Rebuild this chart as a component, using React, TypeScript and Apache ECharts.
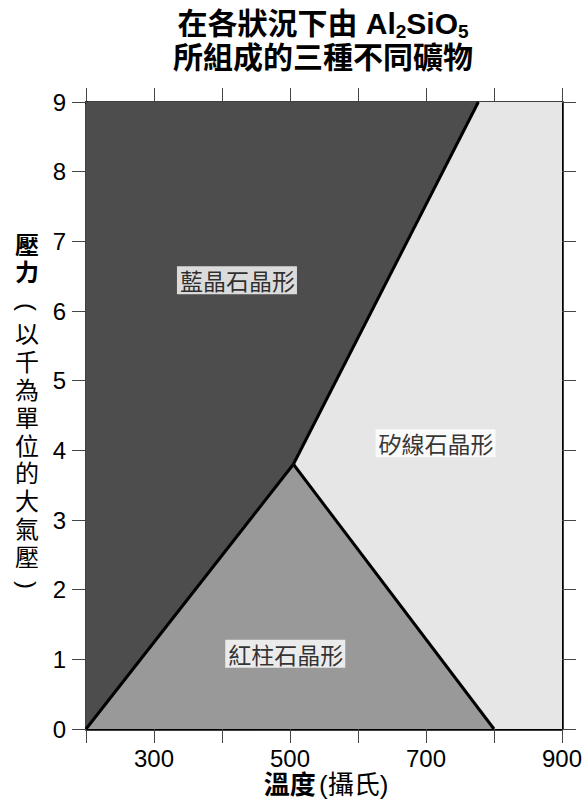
import React, { useEffect, useRef } from 'react';
import * as echarts from 'echarts';

// ---- data ----
const phaseNames = ['藍晶石晶形', '紅柱石晶形', '矽線石晶形'];
const kyaniteRegion = [[200, 0], [505, 3.8], [777, 9], [200, 9]];
const andalusiteRegion = [[200, 0], [800, 0], [505, 3.8]];
const sillimaniteRegion = [[505, 3.8], [800, 0], [900, 0], [900, 9], [777, 9]];
const regionColors = ['#4d4d4d', '#999999', '#e6e6e6'];
const boundaryKyAnd = [[200, 0], [505, 3.8]];
const boundaryAndSil = [[505, 3.8], [800, 0]];
const boundaryKySil = [[505, 3.8], [777, 9]];
const labelPoints = [[422, 6.44], [493, 1.08], [714, 4.1]];
const xTickLabels = [300, 500, 700, 900];
const yTickLabels = [0, 1, 2, 3, 4, 5, 6, 7, 8, 9];
const yNameBold = ['壓', '力'];
const yNameRegular = ['以', '千', '為', '單', '位', '的', '大', '氣', '壓'];

const regions = [kyaniteRegion, andalusiteRegion, sillimaniteRegion];
const boundaries = [boundaryKyAnd, boundaryAndSil, boundaryKySil];

const FONT = "'Liberation Sans', 'Noto Sans CJK TC', sans-serif";
const CJK = "'Noto Sans CJK TC', 'Liberation Sans', sans-serif";

export default function App() {
  const ref = useRef<HTMLDivElement>(null);
  useEffect(() => {
    if (!ref.current) return;
    const chart = echarts.init(ref.current, undefined, { renderer: 'svg' });
    const axisLine = { show: true, onZero: false, lineStyle: { color: '#000', width: 2.5 } };
    const axisTick = { show: true, length: 14, lineStyle: { color: '#444', width: 1 } };

    const yNameX = 27;
    const boldTop = 245;
    const boldStep = 27.2;
    const regTop = 307;
    const regStep = 27.8;
    const yNameGraphics: any[] = [];
    yNameBold.forEach((c, i) => {
      yNameGraphics.push({
        type: 'text', x: yNameX, y: boldTop + i * boldStep,
        style: { text: c, align: 'center', verticalAlign: 'middle', font: `bold 24px ${FONT}`, fill: '#000' },
      });
    });
    // opening bracket (rotated)
    yNameGraphics.push({
      type: 'text', x: yNameX, y: regTop, rotation: -Math.PI / 2,
      style: { text: '(', align: 'center', verticalAlign: 'middle', font: `24px ${FONT}`, fill: '#000' },
    });
    yNameRegular.forEach((c, i) => {
      yNameGraphics.push({
        type: 'text', x: yNameX, y: regTop + (i + 1) * regStep,
        style: { text: c, align: 'center', verticalAlign: 'middle', font: `24px ${FONT}`, fill: '#000' },
      });
    });
    yNameGraphics.push({
      type: 'text', x: yNameX, y: regTop + (yNameRegular.length + 1) * regStep, rotation: -Math.PI / 2,
      style: { text: ')', align: 'center', verticalAlign: 'middle', font: `24px ${FONT}`, fill: '#000' },
    });

    const option: any = {
      animation: false,
      backgroundColor: '#fff',
      grid: { left: 86, top: 102, right: 25, bottom: 75, containLabel: false },
      xAxis: [
        {
          type: 'value', min: 200, max: 900, interval: 100, position: 'bottom',
          axisLine, axisTick,
          axisLabel: {
            formatter: (v: number) => (xTickLabels.includes(v) ? String(v) : ''),
            fontSize: 24, color: '#000', fontFamily: FONT, margin: 17,
          },
          splitLine: { show: false },
        },
        {
          type: 'value', min: 200, max: 900, interval: 100, position: 'top',
          axisLine, axisTick, axisLabel: { show: false }, splitLine: { show: false },
        },
      ],
      yAxis: [
        {
          type: 'value', min: 0, max: 9, interval: 1, position: 'left',
          axisLine, axisTick,
          axisLabel: {
            formatter: (v: number) => (yTickLabels.includes(v) ? String(v) : ''),
            fontSize: 24, color: '#000', fontFamily: FONT, margin: 20,
          },
          splitLine: { show: false },
        },
        {
          type: 'value', min: 0, max: 9, interval: 1, position: 'right',
          axisLine, axisTick, axisLabel: { show: false }, splitLine: { show: false },
        },
      ],
      series: [
        {
          type: 'custom',
          xAxisIndex: 0, yAxisIndex: 0,
          data: regions.map((r) => r[0]),
          silent: true,
          z: 1,
          renderItem: (params: any, api: any) => {
            const i = params.dataIndex;
            const pts = regions[i].map((p) => api.coord(p));
            return { type: 'polygon', shape: { points: pts }, style: { fill: regionColors[i] } };
          },
        },
        ...boundaries.map((b) => ({
          type: 'line', xAxisIndex: 0, yAxisIndex: 0, data: b, symbol: 'none', silent: true, z: 3,
          lineStyle: { color: '#000', width: 3 },
        })),
        {
          type: 'scatter', xAxisIndex: 0, yAxisIndex: 0, z: 5, symbolSize: 0, silent: true,
          data: labelPoints.map((p, i) => ({ value: p, name: phaseNames[i] })),
          label: {
            show: true, position: 'inside', formatter: '{b}', color: '#000',
            fontSize: 23, fontFamily: CJK, backgroundColor: '#fff', padding: [3, 2, 2, 3],
          },
        },
      ],
      graphic: [
        {
          type: 'text', x: 323, y: 5,
          style: {
            text: '{b|在各狀況下由 Al}{s|2}{b|SiO}{s|5}',
            align: 'center', verticalAlign: 'top',
            rich: {
              b: { fontSize: 30, fontWeight: 'bold', fontFamily: FONT, lineHeight: 36, fill: '#000' },
              s: { fontSize: 19, fontWeight: 'bold', fontFamily: FONT, lineHeight: 12, verticalAlign: 'bottom', fill: '#000' },
            },
          },
        },
        {
          type: 'text', x: 323, y: 57,
          style: {
            text: '所組成的三種不同礦物', align: 'center', verticalAlign: 'middle',
            font: `bold 30px ${FONT}`, fill: '#000',
          },
        },
        ...yNameGraphics,
        {
          type: 'text', x: 326, y: 785,
          style: {
            text: '{b|溫度} {r|(攝氏)}', align: 'center', verticalAlign: 'middle',
            rich: {
              b: { fontSize: 26, fontWeight: 'bold', fontFamily: FONT, fill: '#000' },
              r: { fontSize: 26, fontFamily: FONT, fill: '#000' },
            },
          },
        },
      ],
    };
    chart.setOption(option);
    return () => chart.dispose();
  }, []);
  return (
    <div
      ref={ref}
      style={{ position: 'absolute', left: 0, top: 0, width: 587, height: 804 }}
    />
  );
}
